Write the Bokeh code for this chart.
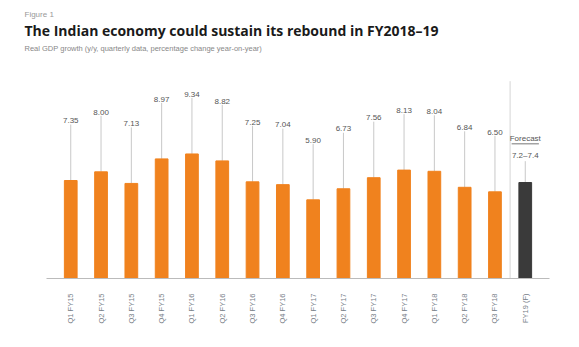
from bokeh.plotting import figure
from bokeh.models import ColumnDataSource, FactorRange, Range1d, Title
from bokeh.transform import dodge
from bokeh.embed import file_html
from bokeh.resources import INLINE

# ---- data ----
quarters = ["Q1 FY15", "Q2 FY15", "Q3 FY15", "Q4 FY15",
            "Q1 FY16", "Q2 FY16", "Q3 FY16", "Q4 FY16",
            "Q1 FY17", "Q2 FY17", "Q3 FY17", "Q4 FY17",
            "Q1 FY18", "Q2 FY18", "Q3 FY18"]
growth = [7.35, 8.00, 7.13, 8.97, 9.34, 8.82, 7.25, 7.04, 5.90, 6.73, 7.56, 8.13, 8.04, 6.84, 6.50]
forecast_cat = "FY19 (F)"
forecast_value = 7.2
forecast_label = "7.2–7.4"

ORANGE = "#F0821E"
DARK = "#3A3A3A"

cats = quarters + [forecast_cat]
p = figure(x_range=FactorRange(*cats, range_padding=0.3, range_padding_units="absolute"),
           y_range=Range1d(0, 16.8),
           width=560, height=330, output_backend="svg", toolbar_location=None,
           min_border_left=46, min_border_right=11, min_border_top=54, min_border_bottom=52)

src = ColumnDataSource(dict(x=quarters, top=growth,
                            ly=[v + 4.3 for v in growth],
                            lt=[f"{v:.2f}" for v in growth],
                            l0=[v for v in growth],
                            l1=[v + 4.2 for v in growth]))
p.segment(x0="x", y0="l0", x1="x", y1="l1", source=src, line_color="#C8C8C8", line_width=1)
p.vbar(x="x", top="top", width=0.42, source=src, color=ORANGE)
p.text(x="x", y="ly", text="lt", source=src, text_align="center", text_baseline="bottom",
       text_font_size="8px", text_color="#555555")

fsrc = ColumnDataSource(dict(x=[forecast_cat], top=[forecast_value],
                             y0=[0], y1=[14.8],
                             uy=[forecast_value + 2.9]))
# separator between actuals and forecast
p.segment(x0=dodge("x", -0.5, range=p.x_range), y0="y0",
          x1=dodge("x", -0.5, range=p.x_range), y1="y1",
          source=fsrc, line_color="#D5D5D5", line_width=1)
p.segment(x0=[forecast_cat], y0=[forecast_value], x1=[forecast_cat], y1=[forecast_value + 1.6],
          line_color="#C8C8C8", line_width=1)
p.vbar(x="x", top="top", width=0.42, source=fsrc, color=DARK)
p.text(x=[forecast_cat], y=[forecast_value + 1.7], text=[forecast_label], text_align="center",
       text_baseline="bottom", text_font_size="8px", text_color="#555555")
p.segment(x0=dodge("x", -0.45, range=p.x_range), y0="uy",
          x1=dodge("x", 0.45, range=p.x_range), y1="uy",
          source=fsrc, line_color="#777777", line_width=1)
p.text(x=[forecast_cat], y=[forecast_value + 3.0], text=["Forecast"], text_align="center",
       text_baseline="bottom", text_font_size="8px", text_color="#555555")

p.yaxis.visible = False
p.xgrid.visible = False
p.ygrid.visible = False
p.outline_line_color = None
p.xaxis.axis_line_color = "#BBBBBB"
p.xaxis.major_tick_line_color = None
p.xaxis.minor_tick_line_color = None
p.xaxis.major_label_orientation = 1.5708
p.xaxis.major_label_text_font_size = "7.5px"
p.xaxis.major_label_text_color = "#778088"
p.xaxis.major_label_standoff = 9

p.add_layout(Title(text="Real GDP growth (y/y, quarterly data, percentage change year-on-year)",
                   text_font_size="7.5px", text_color="#888888", text_font_style="normal",
                   align="left", offset=-22, standoff=4), "above")
p.add_layout(Title(text="The Indian economy could sustain its rebound in FY2018–19",
                   text_font_size="14px", text_color="#1A1A1A", text_font_style="bold",
                   text_font="Open Sans", align="left", offset=-22, standoff=0), "above")
p.add_layout(Title(text="Figure 1", text_font_size="8px", text_color="#999999",
                   text_font_style="normal", align="left", offset=-22, standoff=0), "above")

open("out.html", "w").write(file_html(p, INLINE))
